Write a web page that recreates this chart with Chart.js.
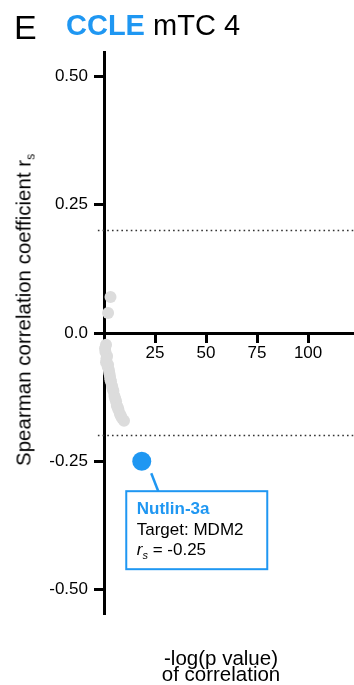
<!DOCTYPE html>
<html>
<head>
<meta charset="utf-8">
<script src="https://cdn.jsdelivr.net/npm/chart.js@4/dist/chart.umd.min.js"></script>
<style>
  html, body { margin: 0; padding: 0; background: #fff; }
  #wrap { position: relative; width: 354px; height: 685px; overflow: hidden;
          font-family: "Liberation Sans", Arial, Helvetica, sans-serif; color: #000; }
  #plot { position: absolute; left: 0; top: 0; }
  .txt { position: absolute; white-space: nowrap; line-height: 1; }
  #panel { left: 14px; top: 10px; font-size: 34px; }
  #title { left: 66px; top: 11px; font-size: 29px; }
  #title b { color: #1f97f2; font-weight: bold; }
  #ytitle { left: 27px; top: 310px; font-size: 20.5px; line-height: 20px;
            transform: translate(-50%, -50%) rotate(-90deg); }
  #ytitle sub { font-size: 12px; vertical-align: -4px; }
  #xtitle { left: 221px; top: 650px; font-size: 20.5px; line-height: 16px;
            text-align: center; transform: translateX(-50%); }
</style>
</head>
<body>
<div id="wrap">
  <canvas id="plot" width="354" height="685"></canvas>
  <div class="txt" id="panel">E</div>
  <div class="txt" id="title"><b>CCLE</b> mTC 4</div>
  <div class="txt" id="ytitle">Spearman correlation coefficient r<sub>s</sub></div>
  <div class="txt" id="xtitle">-log(p value)<br>of correlation</div>
</div>
<script>
// Background compounds: -log10(p) and Spearman r_s
const bgLogP = [3.2, 2.0, 1.0, 0.7, 1.5, 1.0, 2.0, 2.4, 2.9, 3.4, 3.9, 4.6, 5.1, 5.9, 6.3, 7.1, 7.8, 8.8, 9.8,
                0.5, 1.2, 1.8, 2.6, 3.1, 4.2, 5.5, 6.8, 8.3];
const bgRs   = [0.070, 0.039, -0.023, -0.037, -0.045, -0.057, -0.062, -0.072, -0.084, -0.094, -0.103, -0.113,
                -0.123, -0.133, -0.142, -0.150, -0.158, -0.166, -0.171,
                -0.030, -0.050, -0.066, -0.078, -0.090, -0.108, -0.128, -0.146, -0.162];

// Highlighted hit
const hitName = 'Nutlin-3a';
const hitTarget = 'MDM2';
const hitLogP = 18.5;
const hitRs = -0.25;

// Significance thresholds on r_s
const thresholds = [0.2, -0.2];

// Axis ticks
const xTickValues = [25, 50, 75, 100];
const yTickValues = [-0.5, -0.25, 0, 0.25, 0.5];
const yTickLabels = ['-0.50', '-0.25', '0.0', '0.25', '0.50'];

const X_MIN = 0, X_MAX = 122.5;
const Y_LIM = 0.548;
const BLUE = '#1f97f2';
const FONT = '"Liberation Sans", Arial, Helvetica, sans-serif';

const thresholdSets = thresholds.map(t => ({
  type: 'line',
  data: [{ x: -3, y: t }, { x: X_MAX, y: t }],
  borderColor: '#333',
  borderWidth: 1.6,
  borderDash: [1.6, 3.1],
  pointRadius: 0,
  clip: false,
  order: 3
}));

// Label box for the highlighted compound, anchored to its point
const calloutPlugin = {
  id: 'callout',
  afterDatasetsDraw(chart) {
    const { ctx, scales } = chart;
    const px = scales.x.getPixelForValue(hitLogP);
    const py = scales.y.getPixelForValue(hitRs);
    const bx = px - 15.5, by = py + 30, bw = 141, bh = 78;
    ctx.save();
    // leader line
    ctx.strokeStyle = BLUE;
    ctx.lineWidth = 2.5;
    ctx.beginPath();
    ctx.moveTo(px + 9.5, py + 12);
    ctx.lineTo(px + 16.5, by);
    ctx.stroke();
    // box
    ctx.fillStyle = '#fff';
    ctx.fillRect(bx, by, bw, bh);
    ctx.lineWidth = 2;
    ctx.strokeRect(bx, by, bw, bh);
    // text
    const tx = bx + 10.5;
    ctx.textBaseline = 'alphabetic';
    ctx.textAlign = 'left';
    ctx.fillStyle = BLUE;
    ctx.font = 'bold 17px ' + FONT;
    ctx.fillText(hitName, tx, by + 23);
    ctx.fillStyle = '#000';
    ctx.font = '17px ' + FONT;
    ctx.fillText('Target: ' + hitTarget, tx, by + 43.5);
    ctx.font = 'italic 17px ' + FONT;
    ctx.fillText('r', tx, by + 64);
    const rw = ctx.measureText('r').width;
    ctx.font = 'italic 11px ' + FONT;
    ctx.fillText('s', tx + rw, by + 68);
    const sw = ctx.measureText('s').width;
    ctx.font = '17px ' + FONT;
    ctx.fillText(' = ' + hitRs.toFixed(2), tx + rw + sw, by + 64);
    ctx.restore();
  }
};

const noPad = s => { s.paddingLeft = 0; s.paddingRight = 0; s.paddingTop = 0; s.paddingBottom = 0; };

new Chart(document.getElementById('plot'), {
  type: 'scatter',
  data: {
    datasets: [
      ...thresholdSets,
      {
        data: bgLogP.map((v, i) => ({ x: v, y: bgRs[i] })),
        backgroundColor: '#dcdcdc',
        borderWidth: 0,
        pointRadius: 6,
        clip: false,
        order: 2
      },
      {
        data: [{ x: hitLogP, y: hitRs }],
        backgroundColor: BLUE,
        borderWidth: 0,
        pointRadius: 9.5,
        order: 1
      }
    ]
  },
  options: {
    responsive: false,
    animation: false,
    devicePixelRatio: 1,
    layout: { autoPadding: false, padding: { left: 0, right: 0, top: 52, bottom: 71 } },
    plugins: { legend: { display: false }, tooltip: { enabled: false } },
    scales: {
      x: {
        type: 'linear',
        min: X_MIN, max: X_MAX,
        position: 'center',
        afterBuildTicks: s => { s.ticks = xTickValues.map(v => ({ value: v })); },
        afterFit: noPad,
        grid: { drawOnChartArea: false, drawTicks: true, tickLength: 8, tickWidth: 3, tickColor: '#000' },
        border: { display: true, color: '#000', width: 3 },
        ticks: { color: '#000', font: { family: FONT, size: 17 }, padding: 2, maxRotation: 0, autoSkip: false }
      },
      y: {
        type: 'linear',
        min: -Y_LIM, max: Y_LIM,
        position: 'left',
        afterBuildTicks: s => { s.ticks = yTickValues.map(v => ({ value: v })); },
        afterFit: s => { noPad(s); s.width = 104; },
        grid: { drawOnChartArea: false, drawTicks: true, tickLength: 10, tickWidth: 3, tickColor: '#000' },
        border: { display: true, color: '#000', width: 3 },
        ticks: {
          color: '#000', font: { family: FONT, size: 17 }, padding: 6, autoSkip: false,
          callback: v => yTickLabels[yTickValues.indexOf(v)]
        }
      }
    }
  },
  plugins: [calloutPlugin]
});
</script>
</body>
</html>
